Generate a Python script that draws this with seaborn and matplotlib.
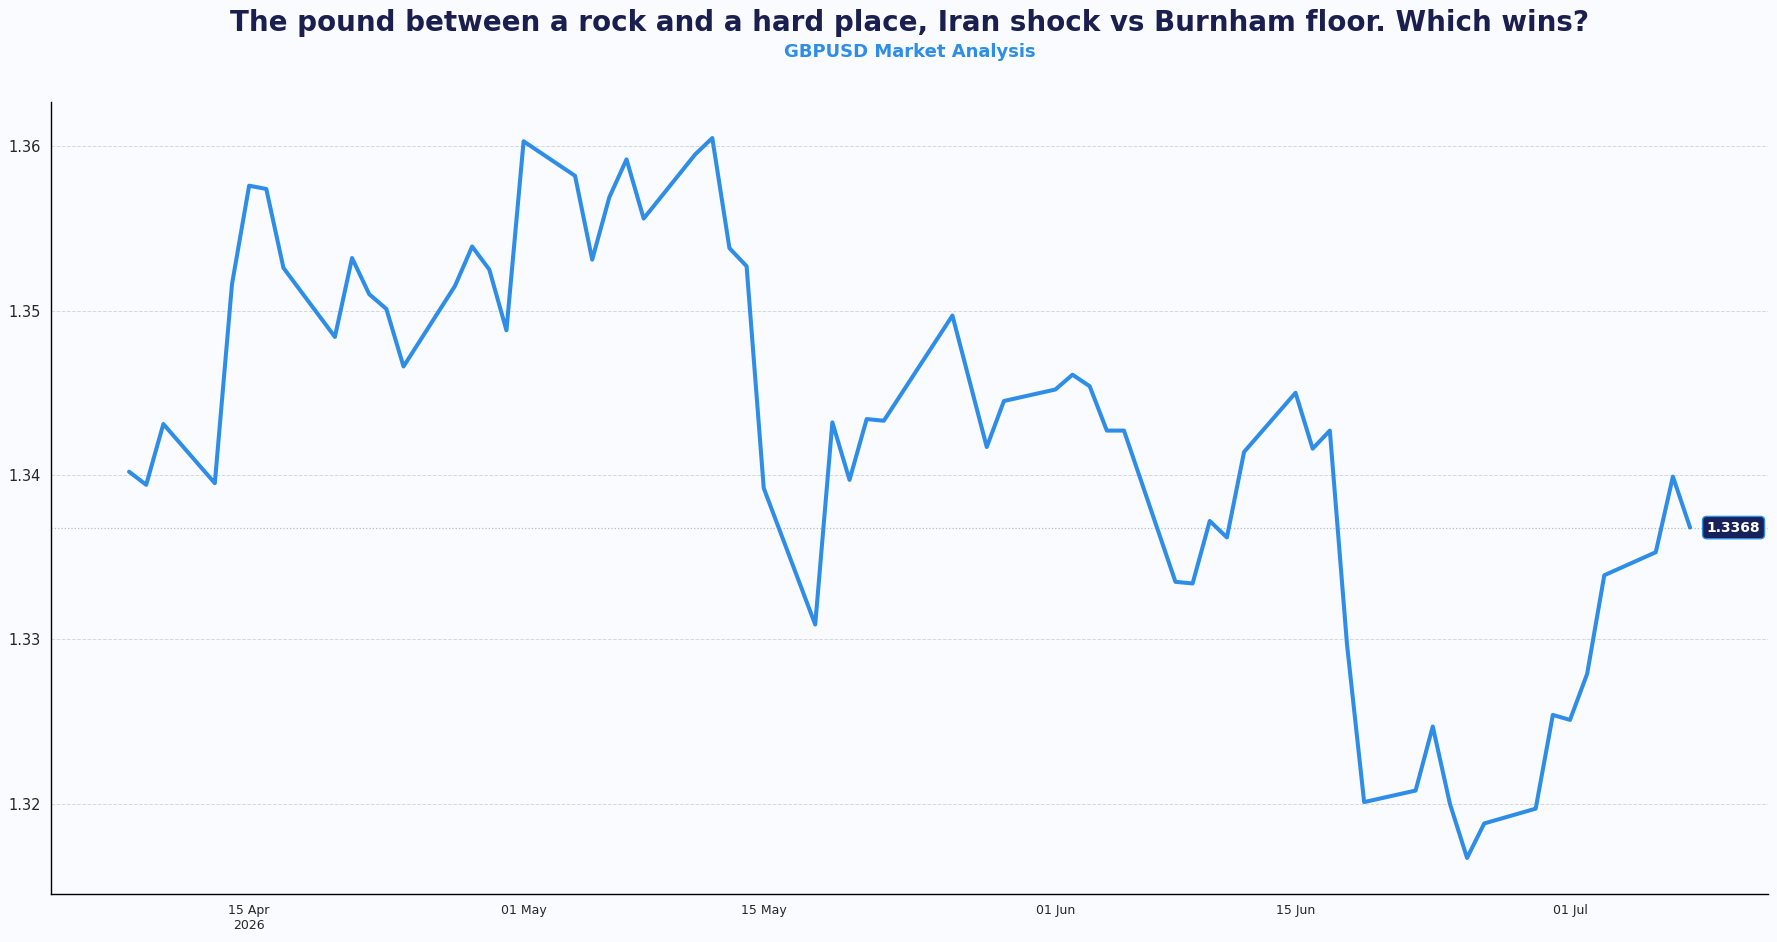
import pandas as pd
import matplotlib
matplotlib.use("Agg")
import matplotlib.pyplot as plt
import seaborn as sns

# Datos de cierre GBPUSD
dates = ["2026-04-08", "2026-04-09", "2026-04-10", "2026-04-13", "2026-04-14",
         "2026-04-15", "2026-04-16", "2026-04-17", "2026-04-20", "2026-04-21",
         "2026-04-22", "2026-04-23", "2026-04-24", "2026-04-27", "2026-04-28",
         "2026-04-29", "2026-04-30", "2026-05-01", "2026-05-04", "2026-05-05",
         "2026-05-06", "2026-05-07", "2026-05-08", "2026-05-11", "2026-05-12",
         "2026-05-13", "2026-05-14", "2026-05-15", "2026-05-18", "2026-05-19",
         "2026-05-20", "2026-05-21", "2026-05-22", "2026-05-26", "2026-05-28",
         "2026-05-29", "2026-06-01", "2026-06-02", "2026-06-03", "2026-06-04",
         "2026-06-05", "2026-06-08", "2026-06-09", "2026-06-10", "2026-06-11",
         "2026-06-12", "2026-06-15", "2026-06-16", "2026-06-17", "2026-06-18",
         "2026-06-19", "2026-06-22", "2026-06-23", "2026-06-24", "2026-06-25",
         "2026-06-26", "2026-06-29", "2026-06-30", "2026-07-01", "2026-07-02",
         "2026-07-03", "2026-07-06", "2026-07-07", "2026-07-08"]
close = [1.3402, 1.3394, 1.3431, 1.3395, 1.3516,
         1.3576, 1.3574, 1.3526, 1.3484, 1.3532,
         1.3510, 1.3501, 1.3466, 1.3515, 1.3539,
         1.3525, 1.3488, 1.3603, 1.3582, 1.3531,
         1.3569, 1.3592, 1.3556, 1.3595, 1.3605,
         1.3538, 1.3527, 1.3392, 1.3309, 1.3432,
         1.3397, 1.3434, 1.3433, 1.3497, 1.3417,
         1.3445, 1.3452, 1.3461, 1.3454, 1.3427,
         1.3427, 1.3335, 1.3334, 1.3372, 1.3362,
         1.3414, 1.3450, 1.3416, 1.3427, 1.3297,
         1.3201, 1.3208, 1.3247, 1.3200, 1.3167,
         1.3188, 1.3197, 1.3254, 1.3251, 1.3279,
         1.3339, 1.3353, 1.3399, 1.3368]

tick_dates = ["2026-04-15", "2026-05-01", "2026-05-15", "2026-06-01", "2026-06-15", "2026-07-01"]
tick_labels = ["15 Apr\n2026", "01 May", "15 May", "01 Jun", "15 Jun", "01 Jul"]
y_ticks = [1.32, 1.33, 1.34, 1.35, 1.36]

title = "The pound between a rock and a hard place, Iran shock vs Burnham floor. Which wins?"
subtitle = "GBPUSD Market Analysis"

df = pd.DataFrame({"date": pd.to_datetime(dates), "close": close})

bg = "#f9fbfe"
blue = "#2e8de6"
navy = "#1b1f4f"

sns.set_style("white")
plt.rcParams["font.family"] = ["DejaVu Sans"]

fig = plt.figure(figsize=(17.77, 9.42), dpi=100, facecolor=bg)
ax = fig.add_axes([0.0287, 0.051, 0.9663, 0.8407])
ax.set_facecolor(bg)

sns.lineplot(data=df, x="date", y="close", color=blue, linewidth=2.9, ax=ax)

# Linea del ultimo precio
last_date = df["date"].iloc[-1]
last = df["close"].iloc[-1]
ax.axhline(last, color="#b5bcc8", linestyle=":", linewidth=0.9, zorder=0)
ax.annotate(f"{last:.4f}", xy=(last_date, last), xytext=(12, 0),
            textcoords="offset points", ha="left", va="center",
            color="white", fontsize=10, fontweight="bold",
            bbox=dict(boxstyle="round,pad=0.3", fc="#17215a", ec=blue, lw=1))

ax.set_yticks(y_ticks)
ax.set_yticklabels([f"{v:.2f}" for v in y_ticks], fontsize=10.5)
ax.set_xticks(pd.to_datetime(tick_dates))
ax.set_xticklabels(tick_labels, fontsize=9)
ax.tick_params(axis="both", length=4, color="black")
ax.grid(axis="y", color="#d3d8df", linestyle="--", linewidth=0.7)
ax.set_xlabel("")
ax.set_ylabel("")
sns.despine(ax=ax)
for s in ["left", "bottom"]:
    ax.spines[s].set_color("black")
    ax.spines[s].set_linewidth(1.0)

fig.text(0.5118, 0.9756, title, ha="center", va="center", fontsize=20,
         fontweight="bold", color=navy)
fig.text(0.5118, 0.9445, subtitle, ha="center", va="center", fontsize=13,
         fontweight="bold", color=blue)

fig.savefig("out.png", dpi=100, facecolor=bg)
